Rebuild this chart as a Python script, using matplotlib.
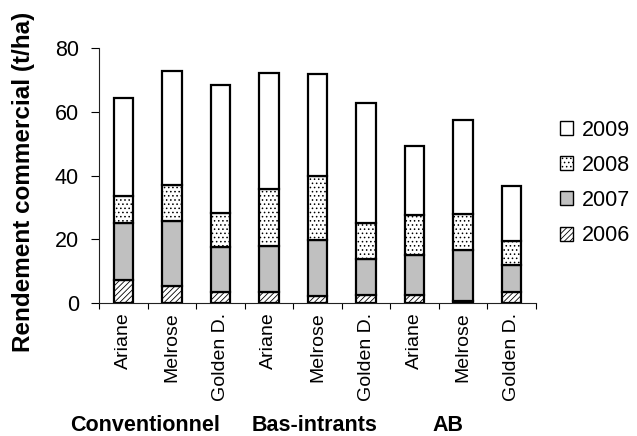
import matplotlib
matplotlib.use("Agg")
import matplotlib.pyplot as plt
from matplotlib.patches import Patch
import numpy as np

plt.rcParams['font.family'] = ['Liberation Sans', 'DejaVu Sans']
plt.rcParams['hatch.linewidth'] = 0.6

varieties = ["Ariane", "Melrose", "Golden D.", "Ariane", "Melrose", "Golden D.",
             "Ariane", "Melrose", "Golden D."]
groups = ["Conventionnel", "Bas-intrants", "AB"]
years = ["2006", "2007", "2008", "2009"]

y2006 = [7.3, 5.3, 3.3, 3.3, 2.1, 2.5, 2.4, 0.5, 3.5]
y2007 = [17.9, 20.4, 14.4, 14.7, 17.6, 11.3, 12.6, 16.2, 8.3]
y2008 = [8.3, 11.2, 10.4, 17.9, 20.1, 11.4, 12.7, 11.1, 7.8]
y2009 = [30.9, 36.0, 40.4, 36.3, 32.1, 37.4, 21.5, 29.6, 17.1]

series = [y2006, y2007, y2008, y2009]
styles = [
    dict(facecolor="white", hatch="//////"),
    dict(facecolor="#C0C0C0", hatch=None),
    dict(facecolor="white", hatch="...."),
    dict(facecolor="white", hatch=None),
]

fig = plt.figure(figsize=(6.37, 4.36), dpi=100)
ax = fig.add_axes([99/637, 1-303/436, 437/637, 255/436])

x = np.arange(len(varieties))
bottom = np.zeros(len(varieties))
for vals, st in zip(series, styles):
    ax.bar(x, vals, width=0.40, bottom=bottom, facecolor=st["facecolor"],
           hatch=st["hatch"], edgecolor="black", linewidth=1.6, zorder=3)
    bottom += np.array(vals)

ax.set_xlim(-0.5, len(varieties) - 0.5)
ax.set_ylim(0, 80)
ax.set_yticks([0, 20, 40, 60, 80])
ax.tick_params(axis='y', labelsize=15.5, length=5.5, width=0.8, pad=9, direction='out')

ax.set_xticks(x)
ax.set_xticklabels(varieties, rotation=90, fontsize=14)
ax.tick_params(axis='x', which='major', length=0, pad=7)
ax.set_xticks(np.arange(-0.5, len(varieties), 1.0), minor=True)
ax.tick_params(axis='x', which='minor', length=4.5, width=0.8, direction='out')

for s in ['top', 'right']:
    ax.spines[s].set_visible(False)
for s in ['left', 'bottom']:
    ax.spines[s].set_linewidth(0.8)
    ax.spines[s].set_color('#222222')

fig.text(24/637, 1-182/436, "Rendement commercial (t/ha)", rotation=90,
         fontsize=17.5, fontweight='bold', ha='center', va='center')

group_x = [145, 314.5, 447.5]
for g, gx in zip(groups, group_x):
    fig.text(gx/637, 1-425/436, g, fontsize=15.5, fontweight='bold',
             ha='center', va='center')

handles = [Patch(facecolor=st["facecolor"], hatch=st["hatch"], edgecolor="black",
                 linewidth=1.0) for st in styles]
leg = fig.legend(handles[::-1], years[::-1], loc='upper left',
                 bbox_to_anchor=(551/637, 1-111/436), frameon=False,
                 fontsize=15.5, handlelength=0.62, handleheight=0.62,
                 handletextpad=0.4, labelspacing=0.66, borderaxespad=0)

fig.savefig("out.png", dpi=100)
